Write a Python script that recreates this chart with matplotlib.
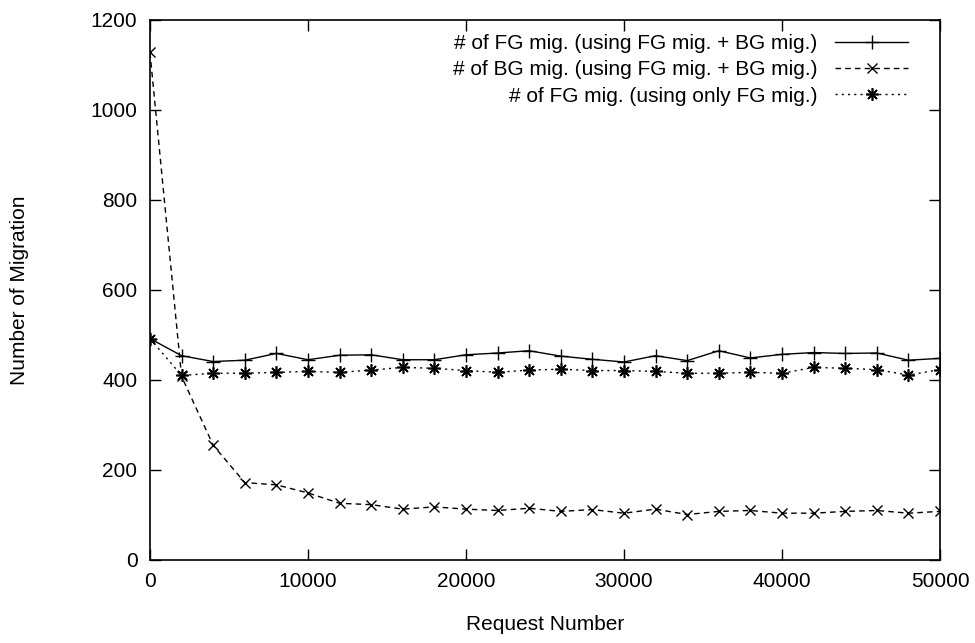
import matplotlib.pyplot as plt
import numpy as np

plt.rcParams["font.family"] = ["Liberation Sans", "DejaVu Sans"]

request = np.arange(0, 50001, 2000)
fg_both = [492, 454, 441, 444, 459, 445, 455, 456, 445, 445, 456, 460, 465,
           453, 446, 440, 454, 443, 465, 449, 457, 461, 459, 460, 444, 448]
bg_both = [1128, 408, 255, 172, 167, 149, 126, 123, 113, 118, 113, 110, 115,
           108, 112, 104, 113, 101, 108, 110, 104, 104, 108, 110, 104, 108]
fg_only = [492, 410, 415, 415, 417, 419, 417, 422, 428, 426, 421, 417, 422,
           424, 421, 421, 419, 415, 415, 417, 415, 428, 426, 423, 411, 423]

labels = [
    "# of FG mig. (using FG mig. + BG mig.)",
    "# of BG mig. (using FG mig. + BG mig.)",
    "# of FG mig. (using only FG mig.)",
]

fig = plt.figure(figsize=(9.75, 6.43), dpi=100)
ax = fig.add_axes([0.1538, 0.1291, 0.8103, 0.8398])

ax.plot(request, fg_both, color="black", lw=1.0, ls="-",
        marker="+", ms=10, mew=1.0, label=labels[0])
ax.plot(request, bg_both, color="black", lw=1.0, ls=(0, (4, 3)),
        marker="x", ms=7, mew=1.0, label=labels[1])
ax.plot(request, fg_only, color="black", lw=1.0, ls=(0, (1.5, 3)),
        marker=(8, 2, 0), ms=9, mew=1.2, label=labels[2])

ax.set_xlim(0, 50000)
ax.set_ylim(0, 1200)
ax.set_xticks(np.arange(0, 50001, 10000))
ax.set_yticks(np.arange(0, 1201, 200))
ax.tick_params(direction="in", length=8, width=1.0, top=True, right=True,
               labelsize=15, pad=9)
for s in ax.spines.values():
    s.set_linewidth(1.2)

ax.set_xlabel("Request Number", fontsize=15, labelpad=17)
ax.set_ylabel("Number of Migration", fontsize=15, labelpad=44)

leg = ax.legend(loc="upper right", bbox_to_anchor=(0.9595, 0.974),
                frameon=False, markerfirst=False, fontsize=15,
                handlelength=3.5, handletextpad=0.85, labelspacing=0.35,
                borderaxespad=0, borderpad=0)
# right-align the legend rows like gnuplot does
for col in leg._legend_box._children[-1]._children:
    col.align = "right"

fig.savefig("out.png", dpi=100)
